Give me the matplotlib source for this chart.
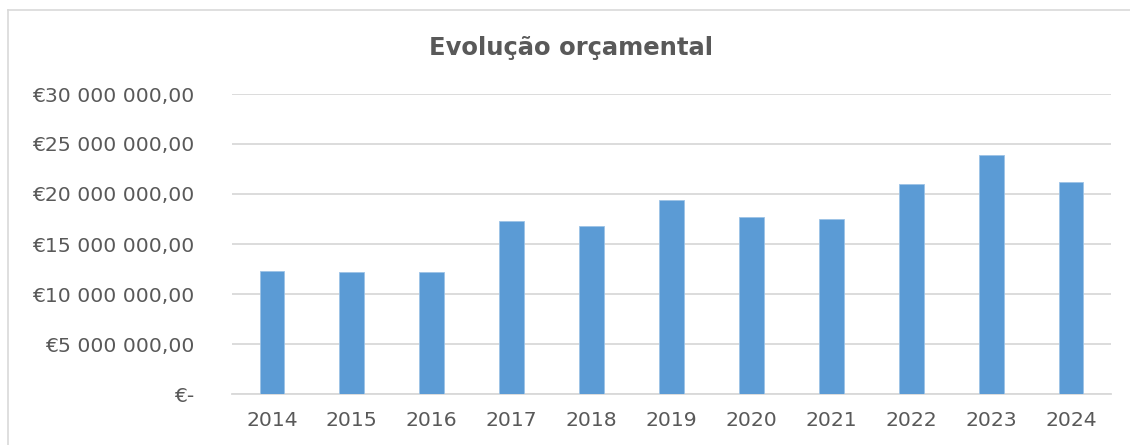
import matplotlib
matplotlib.use("Agg")
import matplotlib.pyplot as plt
from matplotlib.ticker import FuncFormatter
from matplotlib.lines import Line2D

years = ["2014", "2015", "2016", "2017", "2018", "2019", "2020", "2021", "2022", "2023", "2024"]
budget = [12.3e6, 12.17e6, 12.17e6, 17.33e6, 16.77e6, 19.37e6, 17.7e6, 17.47e6, 20.97e6, 23.9e6, 21.2e6]
yticks = [0, 5e6, 10e6, 15e6, 20e6, 25e6, 30e6]
title = "Evolução orçamental"

W, H = 1130, 445
fig = plt.figure(figsize=(W / 100, H / 100), dpi=100)
fig.patch.set_facecolor("white")

# outer frame: only top and left edges are visible in the reference
frame_kw = dict(transform=fig.transFigure, color="#D9D9D9", linewidth=1.2)
fig.add_artist(Line2D([8 / W, 1.0], [1 - 10 / H, 1 - 10 / H], **frame_kw))
fig.add_artist(Line2D([8 / W, 8 / W], [0.0, 1 - 10 / H], **frame_kw))

left, right, top, bottom = 232, 1111, 94, 394
ax = fig.add_axes([left / W, 1 - bottom / H, (right - left) / W, (bottom - top) / H])

txt = "#595959"
x = list(range(len(years)))
ax.bar(x, budget, width=0.31, color="#5B9BD5", edgecolor="#9DC3E6", linewidth=0.6, zorder=3)

ax.set_xlim(-0.5, len(years) - 0.5)
ax.set_ylim(0, 30e6)
ax.set_yticks(yticks)

def fmt(v, pos):
    if v == 0:
        return "€-"
    s = f"{int(round(v)):,}".replace(",", " ")
    return f"€{s},00"

ax.yaxis.set_major_formatter(FuncFormatter(fmt))
ax.set_xticks(x)
ax.set_xticklabels(years)
ax.tick_params(axis="both", length=0, labelsize=14.7, labelcolor=txt)
ax.tick_params(axis="y", pad=27)
ax.tick_params(axis="x", pad=12)
ax.grid(axis="y", color="#D9D9D9", linewidth=1.3, zorder=0)
for s in ["top", "right", "left"]:
    ax.spines[s].set_visible(False)
ax.spines["bottom"].set_color("#D9D9D9")
ax.spines["bottom"].set_linewidth(1.3)

fig.text(571 / W, 1 - 48 / H, title, ha="center", va="center",
         fontsize=17.5, fontweight="bold", color=txt)

fig.savefig("out.png", dpi=100)
